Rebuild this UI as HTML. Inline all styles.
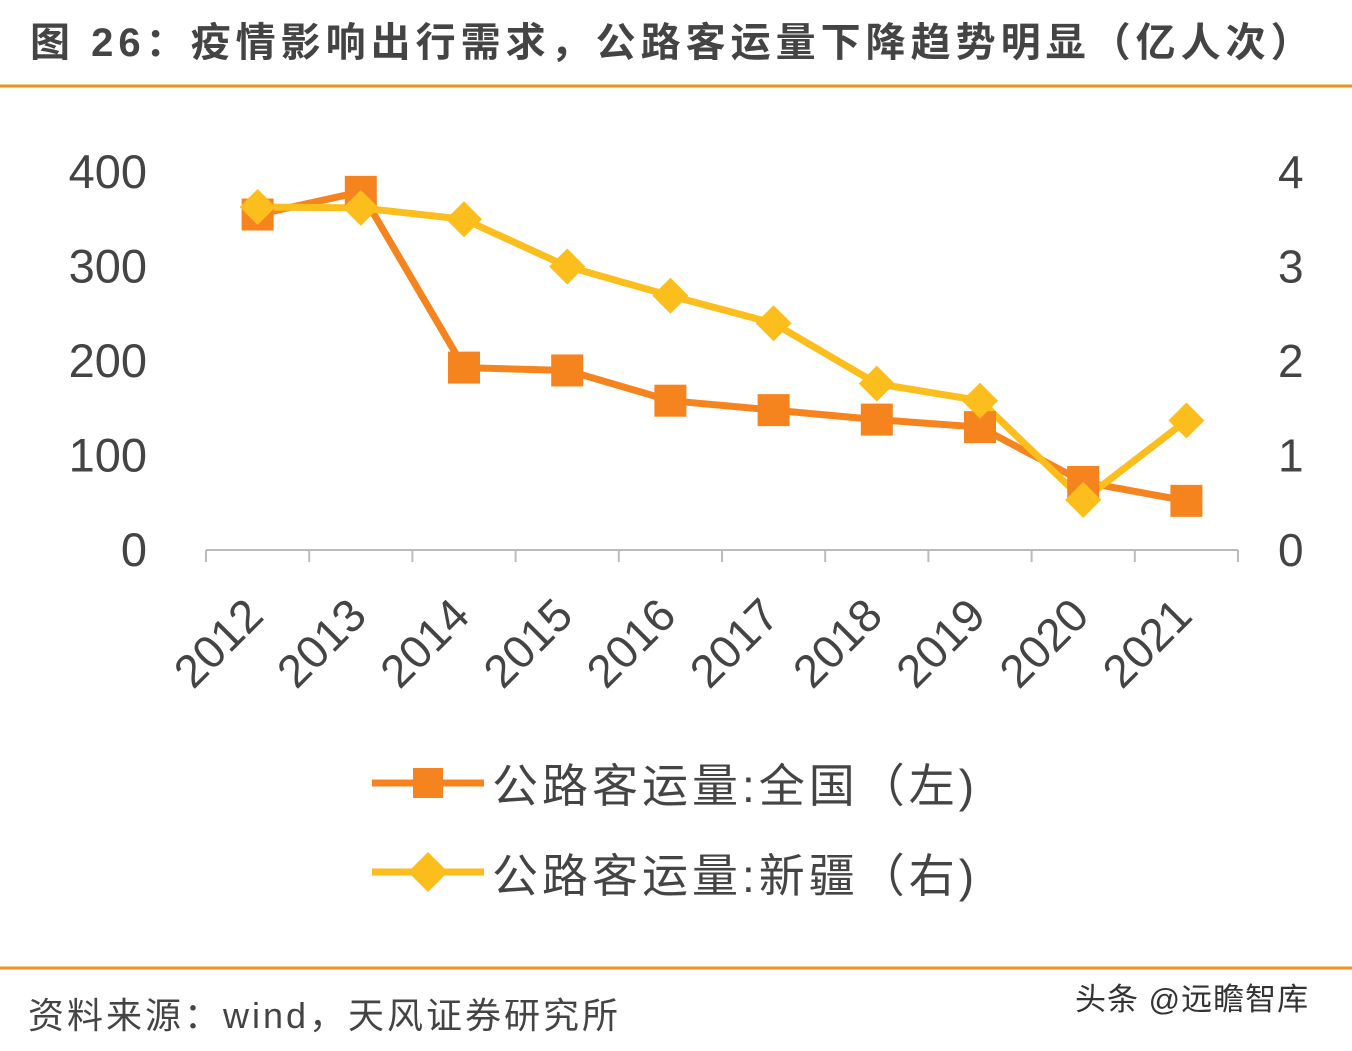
<!DOCTYPE html>
<html><head><meta charset="utf-8"><style>
body{margin:0;width:1352px;height:1046px;background:#fff;overflow:hidden;font-family:"Liberation Sans","Noto Sans CJK SC",sans-serif;}
</style></head><body>
<svg width="1352" height="1046" xmlns="http://www.w3.org/2000/svg">
<text x="30" y="56" font-size="40" font-weight="bold" letter-spacing="5" fill="#444" font-family="Liberation Sans,Noto Sans CJK SC,sans-serif">图 26：疫情影响出行需求，公路客运量下降趋势明显（亿人次）</text>
<line x1="0" y1="86" x2="1352" y2="86" stroke="#F0901E" stroke-width="3"/>
<g id="axes"></g>
<g id="marks"></g>
<g>
<g>
<line x1="372" y1="783" x2="484" y2="783" stroke="#F5841F" stroke-width="7"/>
<rect x="413" y="768" width="30" height="30" fill="#F5841F"/>
<text x="492" y="802" font-size="46" letter-spacing="4" fill="#444">公路客运量:全国（左)</text></g>
<g>
<line x1="372" y1="872" x2="484" y2="872" stroke="#FBBE1C" stroke-width="7"/>
<polygon points="428,852 448,872 428,892 408,872" fill="#FBBE1C"/>
<text x="492" y="892" font-size="46" letter-spacing="4" fill="#444">公路客运量:新疆（右)</text></g>
</g>
<line x1="0" y1="968" x2="1352" y2="968" stroke="#F0901E" stroke-width="3"/>
<text x="28" y="1028" font-size="36" letter-spacing="3" fill="#444">资料来源：wind，天风证券研究所</text>
<text x="1075" y="1010" font-size="31" letter-spacing="1" fill="#333">头条 @远瞻智库</text>
</svg>
<script>
const categories=["2012","2013","2014","2015","2016","2017","2018","2019","2020","2021"];
const national=[355,379,193,190,158,148,138,130,72,52];
const xinjiang=[3.63,3.62,3.5,3.0,2.69,2.4,1.76,1.58,0.53,1.37];
const leftTicks=[0,100,200,300,400];
const rightTicks=[0,1,2,3,4];
const NS="http://www.w3.org/2000/svg";
const x0=206,x1=1238,yBase=550,yTop=172;
const band=(x1-x0)/categories.length;
const xc=i=>x0+band*(i+0.5);
const yL=v=>yBase-(v/400)*(yBase-yTop);
const yR=v=>yBase-(v/4)*(yBase-yTop);
function mk(tag,attrs,parent){const e=document.createElementNS(NS,tag);for(const k in attrs)e.setAttribute(k,attrs[k]);parent.appendChild(e);return e;}
const axes=document.getElementById('axes'),marks=document.getElementById('marks');
let ax=mk('line',{x1:x0,y1:yBase,x2:x1,y2:yBase,stroke:'#bbb','stroke-width':2},axes);


for(let i=0;i<=categories.length;i++){let t=mk('line',{x1:x0+band*i,y1:yBase,x2:x0+band*i,y2:yBase+12,stroke:'#bbb','stroke-width':2},axes);

}
categories.forEach((c,i)=>{const lx=xc(i)+8,ly=yBase+68;let t=mk('text',{x:lx,y:ly,'font-size':46,fill:'#444','text-anchor':'end',transform:`rotate(-45 ${lx} ${ly})`},axes);t.textContent=c;

});
leftTicks.forEach(v=>{let t=mk('text',{x:147,y:yL(v)+16,'font-size':47,fill:'#444','text-anchor':'end'},axes);t.textContent=v;

});
rightTicks.forEach(v=>{let t=mk('text',{x:1278,y:yR(v)+16,'font-size':46,fill:'#444'},axes);t.textContent=v;

});
let p1=mk('polyline',{points:national.map((v,i)=>xc(i)+','+yL(v)).join(' '),fill:'none',stroke:'#F5841F','stroke-width':7},marks);


let p2=mk('polyline',{points:xinjiang.map((v,i)=>xc(i)+','+yR(v)).join(' '),fill:'none',stroke:'#FBBE1C','stroke-width':7},marks);


national.forEach((v,i)=>{let r=mk('rect',{x:xc(i)-16,y:yL(v)-16,width:32,height:32,fill:'#F5841F'},marks);

});
xinjiang.forEach((v,i)=>{const x=xc(i),y=yR(v);let d=mk('polygon',{points:`${x},${y-18} ${x+18},${y} ${x},${y+18} ${x-18},${y}`,fill:'#FBBE1C'},marks);

});
</script>
</body></html>
